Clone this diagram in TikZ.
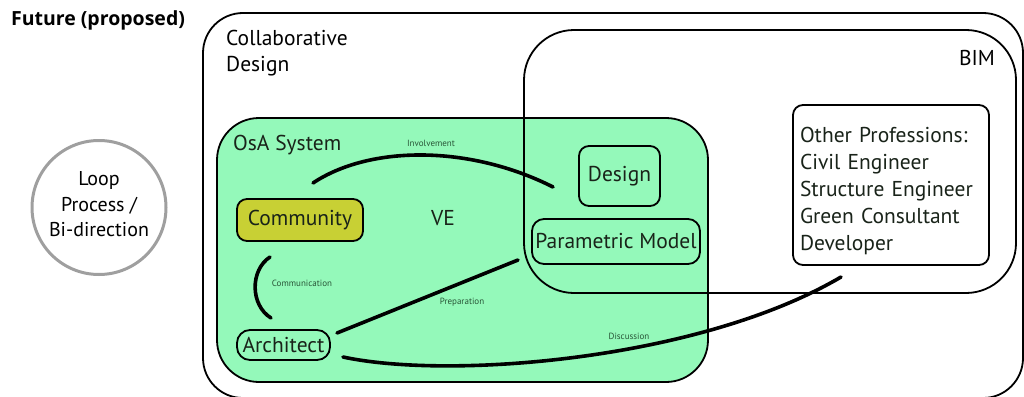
\documentclass[tikz,border=0pt]{standalone}
\usepackage{fontspec}
\setmainfont{PT Sans}
\newfontfamily\titlefont{Open Sans}
\definecolor{osagreen}{RGB}{148,249,186}
\definecolor{commyellow}{RGB}{200,208,52}
\definecolor{lblgreen}{RGB}{40,85,55}
\definecolor{txtdark}{RGB}{25,35,25}
\begin{document}
\begin{tikzpicture}[x=1pt,y=-1pt,
  box/.style={draw=black,line width=1.8pt,rounded corners=10pt,inner sep=0pt,align=center,font=\fontsize{21.5}{27}\selectfont,text=txtdark},
  link/.style={line width=3.6pt,line cap=round,black},
  lbl/.style={font=\fontsize{9}{10}\selectfont,text=lblgreen},
  big/.style={font=\fontsize{21.5}{26}\selectfont}]
\useasboundingbox (0,0) rectangle (1024,396);
% outer container
\draw[line width=1.8pt,rounded corners=40pt] (203,13) rectangle (1023,398);
% OsA system
\draw[line width=1.8pt,rounded corners=42pt,fill=osagreen] (217,118) rectangle (708,382);
% BIM container (drawn over the green area)
\draw[line width=1.8pt,rounded corners=50pt] (524,30) rectangle (1016,293);
% texts
\node[font=\titlefont\fontsize{19.5}{21}\selectfont\bfseries] (title) at (98,20) {Future (proposed)};
\node[big,anchor=north west,align=left,inner sep=0pt] (collab) at (226,30) {Collaborative\\Design};
\node[big] (bim) at (977,58) {BIM};
\node[big,anchor=west,inner sep=0pt,text=txtdark] (osa) at (233,145) {OsA System};
\node[big,text=txtdark] (ve) at (443,218) {VE};
% loop circle
\node[circle,draw=gray!75,line width=3pt,minimum size=134pt,inner sep=0pt] (loop) at (99,207.5) {};
\node[align=center,inner sep=0pt,font=\fontsize{20}{25.5}\selectfont] (looptext) at ([yshift=3pt]loop.center) {Loop\\Process /\\Bi-direction};
% nodes
\node[box,fill=commyellow,minimum width=126pt,minimum height=42pt] (community) at (300,220) {Community};
\node[box,minimum width=81pt,minimum height=60pt] (design) at (619.5,176) {Design};
\node[box,rounded corners=12pt,minimum width=168pt,minimum height=45pt] (param) at (616,241.5) {Parametric Model};
\node[box,minimum width=196pt,minimum height=160pt,align=left,text width=182pt] (other) at (891,185) {\rule{0pt}{27pt}Other Professions:\\Civil Engineer\\Structure Engineer\\Green Consultant\\Developer};
\node[box,rounded corners=13pt,minimum width=93pt,minimum height=30pt] (architect) at (283.5,345) {Architect};
% connector ends
\coordinate (invA) at (313,183);
\coordinate (invB) at (553,187);
\coordinate (comA) at (270,257);
\coordinate (comB) at (271,318);
\coordinate (preA) at (337,333);
\coordinate (preB) at (518,260);
\coordinate (disA) at (343,357);
\coordinate (disB) at (841,277);
\draw[link] (invA) .. controls (370,145) and (470,145) .. (invB);
\draw[link] (comA) .. controls (250,270) and (250,305) .. (comB);
\draw[link] (preA) -- (preB);
\draw[link] (disA) .. controls (450,380) and (700,360) .. (disB);
% labels
\node[lbl] (linv) at (431,143) {Involvement};
\node[lbl] (lcom) at (302,283) {Communication};
\node[lbl] (lpre) at (462,302) {Preparation};
\node[lbl] (ldis) at (629,336) {Discussion};
\end{tikzpicture}
\end{document}
